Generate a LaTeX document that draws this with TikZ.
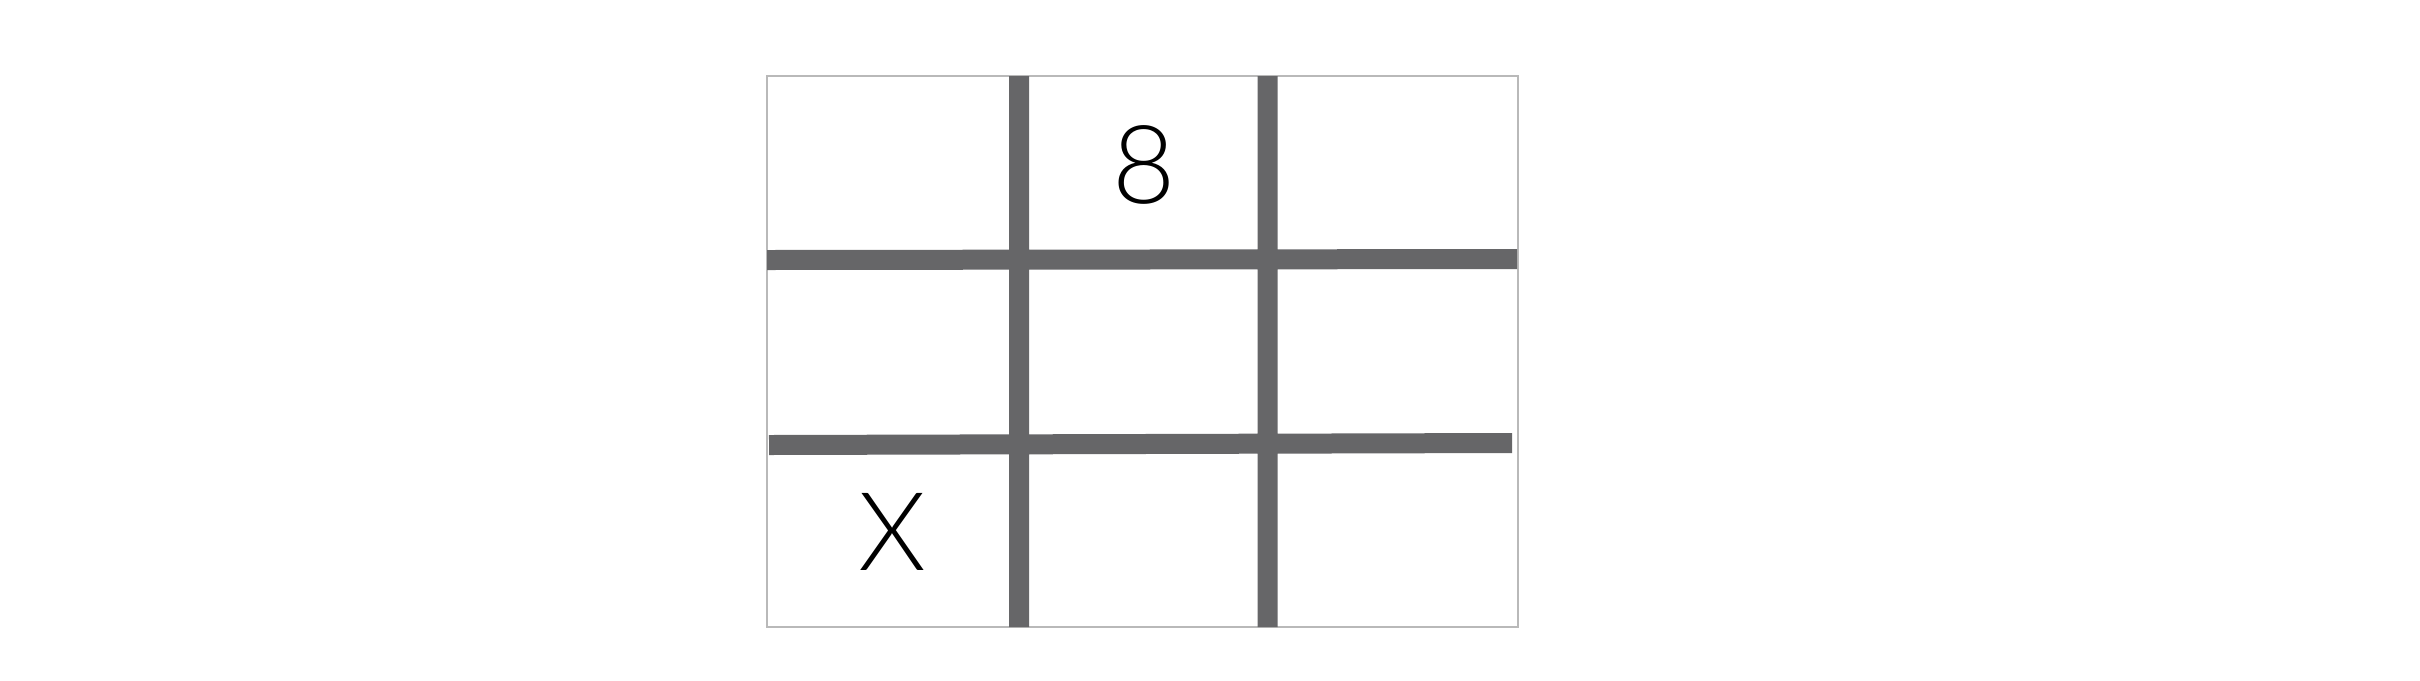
\documentclass[tikz,border=0pt]{standalone}
\usepackage{fontspec}
\setmainfont{Lato}[UprightFont=* Light]
\definecolor{bargray}{RGB}{102,102,104}
\definecolor{framegray}{RGB}{185,185,185}
\begin{document}
\begin{tikzpicture}
\useasboundingbox (0,0) rectangle (24.2,6.8);
\tikzstyle{frame}=[line width=0.6pt,color=framegray]
\tikzstyle{bar}=[line width=2mm,color=bargray]
\tikzstyle{cellmark}=[inner sep=0pt,font=\fontsize{31}{31}\selectfont]
% outer frame
\coordinate (nw) at (7.67,6.04);
\coordinate (se) at (15.18,0.53);
\draw[frame] (nw) rectangle (se);
% grid bars
\coordinate (v1t) at (10.19,6.04);
\coordinate (v1b) at (10.19,0.53);
\coordinate (v2t) at (12.675,6.04);
\coordinate (v2b) at (12.675,0.53);
\coordinate (h1l) at (7.67,4.20);
\coordinate (h1r) at (15.17,4.21);
\coordinate (h2l) at (7.69,2.35);
\coordinate (h2r) at (15.12,2.37);
\draw[bar] (h1l) -- (h1r)
(h2l) -- (h2r)
(v1t) -- (v1b)
(v2t) -- (v2b);
% cell contents
\node[cellmark] (eight) at (11.44,5.15) {8};
\node[cellmark] (cross) at (8.92,1.48) {X};
\end{tikzpicture}
\end{document}
